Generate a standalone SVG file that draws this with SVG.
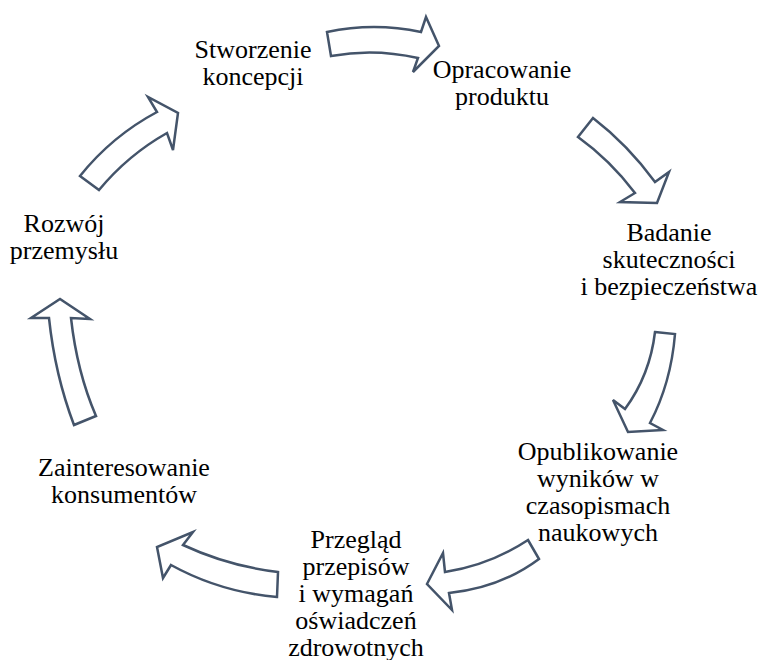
<svg xmlns="http://www.w3.org/2000/svg" width="759" height="660" viewBox="0 0 759 660">
<rect width="759" height="660" fill="#fff"/>
<g id="connectors" fill="#fff" stroke="#44546A" stroke-width="2.5">
<path d="M327,32 Q374,22 421,32 L426,17 L439,46 L413,72 L418,58 Q374,48 331,56 Z"/>
<path d="M593,118 Q628,145 655,182 L669,172 L657,203 L620,202 L635,193 Q610,160 578,137 Z"/>
<path d="M655,332 L675,334 Q671,383 650,423 L663,430 L628,432 L613,400 L625,409 Q650,375 655,332 Z"/>
<path d="M528,540 L539,559 Q500,588 449,593 L452,610 L427,584 L443,553 L445,572 Q490,565 528,540 Z"/>
<path d="M278,572 Q228,566 183,545 L193,532 L157,547 L163,578 L171,565 Q220,592 277,597 Z"/>
<path d="M74,425 Q55,375 49,318 L31,318 L60,299 L90,319 L71,318 Q77,372 96,416 Z"/>
<path d="M80,176 Q112,136 157,112 L148,97 L178,113 L173,150 L167,133 Q128,155 99,190 Z"/>
</g>
<text x="253" y="58" font-family="'Liberation Serif'" font-size="26" text-anchor="middle">Stworzenie</text>
<text x="253" y="85" font-family="'Liberation Serif'" font-size="26" text-anchor="middle">koncepcji</text>
<text x="502" y="78" font-family="'Liberation Serif'" font-size="26" text-anchor="middle">Opracowanie</text>
<text x="502" y="105" font-family="'Liberation Serif'" font-size="26" text-anchor="middle">produktu</text>
<text x="669" y="241" font-family="'Liberation Serif'" font-size="26" text-anchor="middle">Badanie</text>
<text x="669" y="268" font-family="'Liberation Serif'" font-size="26" text-anchor="middle">skuteczności</text>
<text x="669" y="295" font-family="'Liberation Serif'" font-size="26" text-anchor="middle">i bezpieczeństwa</text>
<text x="598" y="460" font-family="'Liberation Serif'" font-size="26" text-anchor="middle">Opublikowanie</text>
<text x="598" y="487" font-family="'Liberation Serif'" font-size="26" text-anchor="middle">wyników w</text>
<text x="598" y="514" font-family="'Liberation Serif'" font-size="26" text-anchor="middle">czasopismach</text>
<text x="598" y="541" font-family="'Liberation Serif'" font-size="26" text-anchor="middle">naukowych</text>
<text x="356" y="548" font-family="'Liberation Serif'" font-size="26" text-anchor="middle">Przegląd</text>
<text x="356" y="575" font-family="'Liberation Serif'" font-size="26" text-anchor="middle">przepisów</text>
<text x="356" y="602" font-family="'Liberation Serif'" font-size="26" text-anchor="middle">i wymagań</text>
<text x="356" y="629" font-family="'Liberation Serif'" font-size="26" text-anchor="middle">oświadczeń</text>
<text x="356" y="656" font-family="'Liberation Serif'" font-size="26" text-anchor="middle">zdrowotnych</text>
<text x="124" y="476" font-family="'Liberation Serif'" font-size="26" text-anchor="middle">Zainteresowanie</text>
<text x="124" y="503" font-family="'Liberation Serif'" font-size="26" text-anchor="middle">konsumentów</text>
<text x="64" y="232" font-family="'Liberation Serif'" font-size="26" text-anchor="middle">Rozwój</text>
<text x="64" y="259" font-family="'Liberation Serif'" font-size="26" text-anchor="middle">przemysłu</text>
</svg>
